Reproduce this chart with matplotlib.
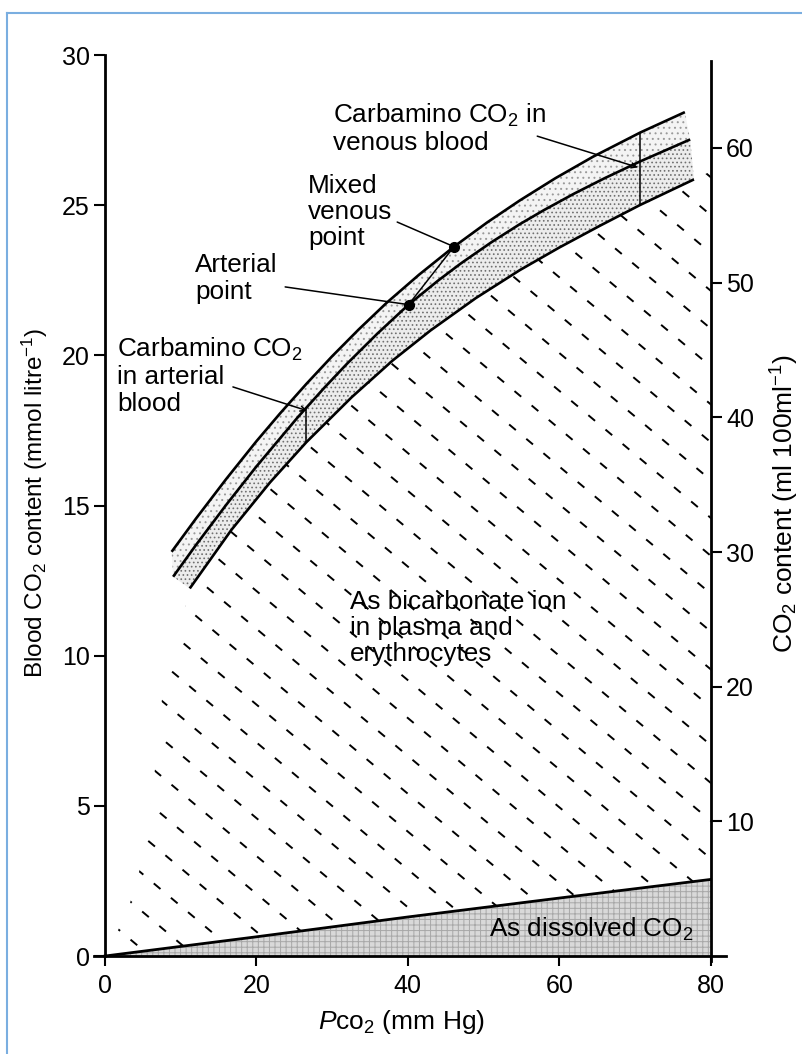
import numpy as np
import matplotlib.pyplot as plt
from matplotlib.patches import Polygon

plt.rcParams['font.family'] = ['Liberation Sans', 'DejaVu Sans']
plt.rcParams['mathtext.fontset'] = 'custom'
plt.rcParams['mathtext.rm'] = 'Liberation Sans'
plt.rcParams['mathtext.it'] = 'Liberation Sans:italic'
plt.rcParams['mathtext.bf'] = 'Liberation Sans:bold'
plt.rcParams['hatch.linewidth'] = 0.7

# --- data (Pco2 in mm Hg, CO2 content in mmol/l) ---
venous_pco2 = [8.8, 12, 16, 20, 23.1, 26.6, 30, 33.5, 37.2, 41.5, 46.1, 50.5, 54.8, 59.5, 64.5, 70.7, 76.6]
venous_co2 = [13.46, 14.56, 15.88, 17.14, 18.06, 19.05, 19.97, 20.86, 21.75, 22.69, 23.62,
              24.43, 25.16, 25.9, 26.62, 27.42, 28.1]

arterial_pco2 = [9, 12, 16, 20, 25.5, 29, 32, 36, 40.1, 44, 47, 51, 54.8, 58, 62, 66, 70.7, 77.3]
arterial_co2 = [12.63, 13.68, 15.02, 16.3, 17.95, 18.93, 19.73, 20.73, 21.69, 22.49, 23.06,
                23.76, 24.37, 24.84, 25.39, 25.9, 26.46, 27.19]

bicarb_pco2 = [11.2, 16.7, 21.8, 26.6, 32.6, 38, 43, 49, 54.8, 60, 65.4, 70.7, 77.8]
bicarb_co2 = [12.24, 14.19, 15.77, 17.11, 18.61, 19.83, 20.83, 21.91, 22.84, 23.59, 24.32, 25.01, 25.86]

# left edge of the bicarbonate region (below where the curves start)
bicarb_edge_pco2 = [0, 3.0, 5.3, 6.5, 7.5, 9.5, 11.2]
bicarb_edge_co2 = [0, 1.5, 3.5, 6.0, 8.5, 10.5, 12.24]

dissolved_pco2 = [0, 20, 40, 60, 80]
dissolved_co2 = [0, 0.64, 1.3, 1.93, 2.55]

arterial_point = (40.1, 21.69)
venous_point = (46.1, 23.62)
arterial_carb_pco2 = 26.6
venous_carb_pco2 = 70.7

ML_PER_MMOL = 2.23  # right axis: ml per 100 ml

x_ticks = [0, 20, 40, 60, 80]
left_ticks = [0, 5, 10, 15, 20, 25, 30]
right_ticks = [10, 20, 30, 40, 50, 60]

XLIM = (-1.5, 82.0)
YLIM = (-0.3, 30.3)
FS = 18.8
TICK_FS = 18

fig = plt.figure(figsize=(8.03, 10.54), dpi=100)
ax_pos = [0.1166, 0.0844, 0.7872, 0.8719]
ax = fig.add_axes(ax_pos)
ax.set_xlim(*XLIM)
ax.set_ylim(*YLIM)

# thin blue frame of the page (top and left only)
fig.add_artist(plt.Line2D([7 / 803, 7 / 803], [0, 1 - 13 / 1054], color='#7aaee0', lw=1.5))
fig.add_artist(plt.Line2D([7 / 803, 1], [1 - 13 / 1054, 1 - 13 / 1054], color='#7aaee0', lw=1.5))

# --- dissolved CO2 (grey halftone) ---
diss_verts = list(zip(dissolved_pco2, dissolved_co2)) + [(dissolved_pco2[-1], 0), (0, 0)]
ax.add_patch(Polygon(diss_verts, closed=True, facecolor='#d9d9d9', edgecolor='#a8a8a8',
                     lw=0, hatch='+++', zorder=1))
ax.plot(dissolved_pco2, dissolved_co2, color='black', lw=2.0, zorder=4)

# --- bicarbonate region, dashed diagonal texture clipped to it ---
slope = (bicarb_co2[-1] - bicarb_co2[-2]) / (bicarb_pco2[-1] - bicarb_pco2[-2])
y_end = bicarb_co2[-1] + slope * (80 - bicarb_pco2[-1])
bic_verts = (list(zip(dissolved_pco2, dissolved_co2)) + [(80, y_end)]
             + list(zip(bicarb_pco2[::-1], bicarb_co2[::-1]))
             + list(zip(bicarb_edge_pco2[::-1], bicarb_edge_co2[::-1]))[1:])
clip = Polygon(bic_verts, closed=True, facecolor='none', edgecolor='none')
ax.add_patch(clip)

fig_w, fig_h = 803, 1054
px_x = ax_pos[2] * fig_w / (XLIM[1] - XLIM[0])
px_y = ax_pos[3] * fig_h / (YLIM[1] - YLIM[0])
ang = np.deg2rad(-40)
d = np.array([np.cos(ang), np.sin(ang)])
n = np.array([-np.sin(ang), np.cos(ang)])
spacing = 29.0
for k in range(-5, 45):
    base = n * k * spacing
    p0 = base - d * 1500
    p1 = base + d * 1500
    ln, = ax.plot([p0[0] / px_x, p1[0] / px_x], [p0[1] / px_y, p1[1] / px_y],
                  color='black', lw=1.4, solid_capstyle='butt', dash_capstyle='butt',
                  linestyle=((k * 3.7) % 11.5, (4.5, 7.0)), zorder=2)
    ln.set_clip_path(clip)

# --- carbamino bands (stippled) ---
upper = list(zip(venous_pco2, venous_co2)) + list(zip(arterial_pco2[::-1], arterial_co2[::-1]))
lower = list(zip(arterial_pco2, arterial_co2)) + list(zip(bicarb_pco2[::-1], bicarb_co2[::-1]))
ax.add_patch(Polygon(upper, closed=True, facecolor='#f4f4f4', edgecolor='#9a9a9a',
                     lw=0, hatch='...', zorder=1))
ax.add_patch(Polygon(lower, closed=True, facecolor='#ececec', edgecolor='#707070',
                     lw=0, hatch='....', zorder=1))

for xs, ys in [(venous_pco2, venous_co2), (arterial_pco2, arterial_co2), (bicarb_pco2, bicarb_co2)]:
    ax.plot(xs, ys, color='black', lw=1.9, zorder=4, solid_capstyle='butt', solid_joinstyle='round')

# vertical carbamino markers
ax.plot([arterial_carb_pco2] * 2,
        [np.interp(arterial_carb_pco2, arterial_pco2, arterial_co2),
         np.interp(arterial_carb_pco2, bicarb_pco2, bicarb_co2)], color='black', lw=1.1, zorder=4)
ax.plot([venous_carb_pco2] * 2,
        [np.interp(venous_carb_pco2, venous_pco2, venous_co2),
         np.interp(venous_carb_pco2, bicarb_pco2, bicarb_co2)], color='black', lw=1.1, zorder=4)

# arterial and mixed venous points
ax.plot([arterial_point[0], venous_point[0]], [arterial_point[1], venous_point[1]],
        color='black', lw=1.1, zorder=5)
ax.plot(*arterial_point, 'o', color='black', ms=7, zorder=6)
ax.plot(*venous_point, 'o', color='black', ms=7, zorder=6)

# --- labels and leader lines ---
txt = dict(fontsize=FS, ha='left', va='top', linespacing=1.12, zorder=7)
ax.text(30.1, 28.45, 'Carbamino CO$_2$ in\nvenous blood', **txt)
ax.text(26.8, 26.05, 'Mixed\nvenous\npoint', **txt)
ax.text(11.9, 23.4, 'Arterial\npoint', **txt)
ax.text(1.6, 20.65, 'Carbamino CO$_2$\nin arterial\nblood', **txt)
ax.text(32.4, 12.2, 'As bicarbonate ion\nin plasma and\nerythrocytes', **txt)
ax.text(50.7, 1.33, 'As dissolved CO$_2$', **txt)

lead = dict(color='black', lw=1.1)
ax.annotate('', xy=(venous_carb_pco2 - 0.3, np.interp(venous_carb_pco2, arterial_pco2, arterial_co2) - 0.2),
            xytext=(57.1, 27.3), arrowprops=dict(arrowstyle='->', mutation_scale=9, shrinkA=0, shrinkB=0, **lead),
            zorder=6)
ax.annotate('', xy=(arterial_carb_pco2 + 0.1, np.interp(arterial_carb_pco2, arterial_pco2, arterial_co2) - 0.1),
            xytext=(16.9, 18.95), arrowprops=dict(arrowstyle='->', mutation_scale=9, shrinkA=0, shrinkB=0, **lead),
            zorder=6)
ax.annotate('', xy=venous_point, xytext=(38.6, 24.44),
            arrowprops=dict(arrowstyle='-', shrinkA=0, shrinkB=0, **lead), zorder=6)
ax.annotate('', xy=arterial_point, xytext=(23.8, 22.28),
            arrowprops=dict(arrowstyle='-', shrinkA=0, shrinkB=0, **lead), zorder=6)

# --- axes ---
for s in ['top', 'right']:
    ax.spines[s].set_visible(False)
ax.spines['left'].set_position(('data', 0))
ax.spines['bottom'].set_position(('data', 0))
ax.spines['left'].set_bounds(0, 30)
ax.spines['bottom'].set_bounds(XLIM[0], XLIM[1])
for s in ['left', 'bottom']:
    ax.spines[s].set_linewidth(2.0)
ax.set_xticks(x_ticks)
ax.set_yticks(left_ticks)
ax.tick_params(axis='both', labelsize=TICK_FS, width=1.5, direction='out')
ax.tick_params(axis='x', length=7, pad=6)
ax.tick_params(axis='y', length=8, pad=3)

ax2 = ax.twinx()
ax2.set_position(ax_pos)
ax2.set_ylim(YLIM[0] * ML_PER_MMOL, YLIM[1] * ML_PER_MMOL)
for s in ['top', 'left', 'bottom']:
    ax2.spines[s].set_visible(False)
ax2.spines['right'].set_position(('data', 80))
ax2.spines['right'].set_bounds(-0.4, 29.8 * ML_PER_MMOL)
ax2.spines['right'].set_linewidth(2.0)
ax2.set_yticks(right_ticks)
ax2.tick_params(axis='y', labelsize=TICK_FS, width=1.5, length=8, pad=3, direction='out')

fig.text(35 / 803, 1 - 503 / 1054, 'Blood CO$_2$ content (mmol litre$^{-1}$)', rotation=90,
         ha='center', va='center', fontsize=17.5)
fig.text(785 / 803, 1 - 504 / 1054, 'CO$_2$ content (ml 100ml$^{-1}$)', rotation=90,
         ha='center', va='center', fontsize=19)
fig.text(402 / 803, 1 - 1022 / 1054, '$P$co$_2$ (mm Hg)', ha='center', va='center', fontsize=19)

fig.savefig('out.png', dpi=100)
